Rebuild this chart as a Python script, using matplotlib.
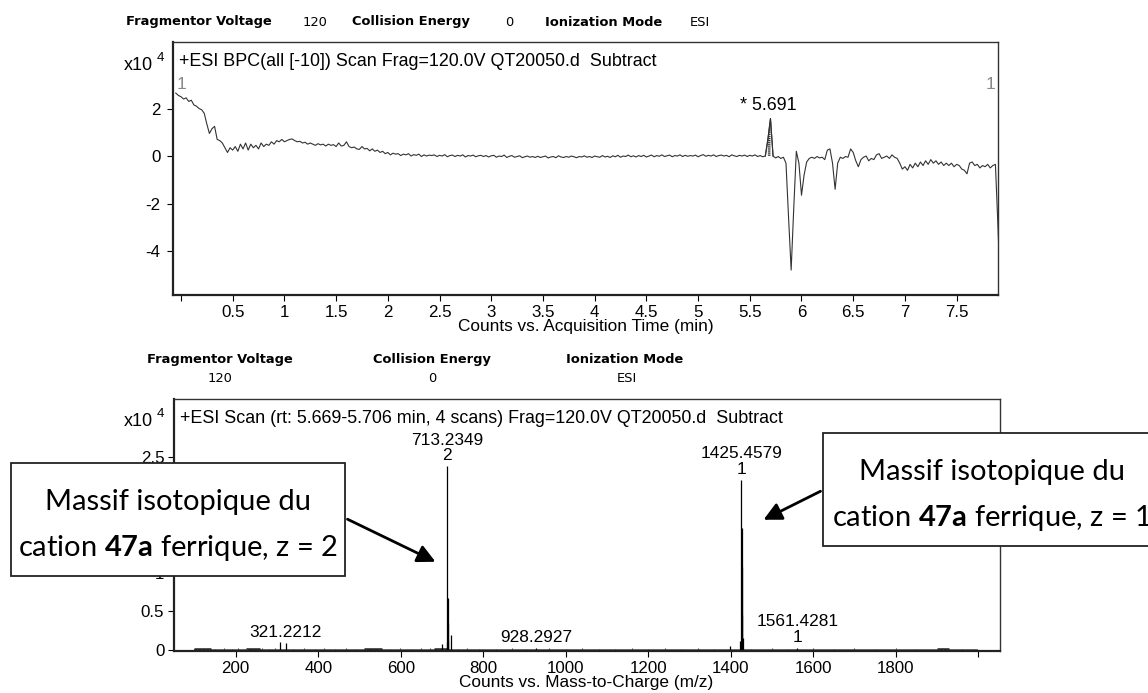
import numpy as np
import matplotlib.pyplot as plt
from matplotlib.patches import Rectangle, FancyArrowPatch

plt.rcParams['font.family'] = ['Liberation Sans', 'DejaVu Sans']
plt.rcParams['axes.unicode_minus'] = False
plt.rcParams['hatch.linewidth'] = 0.9
plt.rcParams['mathtext.fontset'] = 'custom'
plt.rcParams['mathtext.rm'] = 'Lato'
plt.rcParams['mathtext.bf'] = 'Lato:bold'
plt.rcParams['mathtext.it'] = 'Lato:italic'

# --- Chromatogramme BPC (x10^4 counts), pas de 0.025 min à partir de -0.05 ---
bpc_counts = [
    2.65, 2.55, 2.5, 2.4, 2.45, 2.3, 2.35, 2.15, 2.1, 2.0, 1.95, 1.8, 1.35, 0.95, 1.15, 1.25, 0.7, 0.65, 0.55, 0.35,
    0.15, 0.35, 0.25, 0.4, 0.2, 0.5, 0.3, 0.55, 0.25, 0.5, 0.35, 0.45, 0.3, 0.55, 0.4, 0.5, 0.45, 0.6, 0.5, 0.65,
    0.6, 0.7, 0.6, 0.65, 0.7, 0.72, 0.65, 0.6, 0.62, 0.55, 0.58, 0.5, 0.55, 0.5, 0.45, 0.52, 0.47, 0.5, 0.42, 0.5,
    0.45, 0.48, 0.4, 0.55, 0.42, 0.45, 0.6, 0.4, 0.35, 0.38, 0.3, 0.28, 0.4, 0.3, 0.32, 0.22, 0.3, 0.2, 0.25, 0.15,
    0.2, 0.1, 0.15, 0.05, 0.12, 0.08, 0.1, 0.02, 0.08, 0.05, 0.1, 0.0, 0.06, 0.03, 0.08, -0.02, 0.05, 0.0, 0.04, 0.02,
    0.05, -0.02, 0.03, 0.0, 0.06, -0.03, 0.02, 0.04, -0.02, 0.03, 0.0, 0.05, -0.04, 0.02, 0.0, 0.04, -0.03, 0.01, 0.03, -0.02,
    0.02, -0.04, 0.01, 0.03, -0.05, 0.0, -0.02, 0.04, -0.06, -0.01, 0.02, -0.05, -0.02, 0.01, -0.07, -0.03, 0.0, -0.05, -0.02, -0.06,
    -0.01, -0.06, -0.03, 0.0, -0.08, -0.04, -0.02, -0.07, 0.01, -0.04, -0.06, -0.02, -0.05, 0.0, -0.03, -0.07, -0.02, -0.04, 0.01, -0.05,
    -0.02, -0.06, 0.0, -0.03, -0.05, 0.02, -0.04, -0.01, -0.06, 0.01, -0.03, 0.03, -0.05, 0.0, -0.02, 0.04, -0.03, 0.01, -0.04, 0.02,
    -0.02, 0.03, -0.04, 0.0, 0.04, -0.03, 0.02, -0.01, 0.05, -0.02, 0.01, 0.04, -0.03, 0.02, 0.0, 0.05, -0.02, 0.03, -0.01, 0.02,
    0.0, 0.04, -0.03, 0.02, 0.06, -0.01, 0.03, 0.0, 0.05, -0.02, 0.02, 0.04, 0.0, 0.03, -0.03, 0.05, 0.01, -0.02, 0.03, 0.0,
    0.04, -0.02, 0.03, 0.0, 0.05, -0.02, 0.02, -0.03, 0.0, 0.7, 1.58, 0.0, -0.08, -0.02, -0.1, -0.05, -0.3, -2.6, -4.8, -2.2,
    0.2, -0.3, -1.65, -0.8, -0.25, -0.1, -0.05, -0.1, -0.02, -0.08, -0.05, -0.15, 0.25, 0.3, -0.3, -1.4, -0.3, -0.05, -0.1, -0.02,
    -0.05, 0.3, 0.15, -0.2, -0.45, -0.15, -0.05, 0.0, -0.2, -0.1, -0.15, 0.05, 0.1, -0.1, -0.05, 0.0, -0.1, 0.05, -0.05, -0.1,
    -0.3, -0.55, -0.45, -0.6, -0.35, -0.5, -0.3, -0.45, -0.25, -0.4, -0.2, -0.35, -0.15, -0.3, -0.2, -0.35, -0.25, -0.4, -0.3, -0.4,
    -0.3, -0.45, -0.35, -0.4, -0.55, -0.6, -0.75, -0.3, -0.25, -0.4, -0.35, -0.5, -0.4, -0.45, -0.35, -0.5, -0.4, -0.35, -3.0, -6.0,
]
bpc_time = -0.05 + 0.025 * np.arange(len(bpc_counts))
bpc_counts = np.array(bpc_counts)
peak_rt = 5.691
time_ticks = [0, 0.5, 1, 1.5, 2, 2.5, 3, 3.5, 4, 4.5, 5, 5.5, 6, 6.5, 7, 7.5]
time_labels = ['', '0.5', '1', '1.5', '2', '2.5', '3', '3.5', '4', '4.5', '5', '5.5', '6', '6.5', '7', '7.5']
bpc_yticks = [-4, -2, 0, 2]

# --- Spectre de masse (x10^4 counts) ---
peak_mz = [307.2, 321.2212, 699.8, 712.73, 713.2349, 713.73, 714.23, 714.73, 722.2, 928.2927,
           1399.5, 1423.46, 1424.46, 1425.4579, 1426.46, 1427.46, 1428.46, 1429.46, 1561.4281]
peak_h = [0.1, 0.09, 0.08, 0.1, 2.38, 0.67, 0.35, 0.12, 0.19, 0.03,
          0.05, 0.12, 0.08, 2.2, 1.58, 1.07, 0.45, 0.15, 0.03]
noise_mz = [105, 118, 127, 136, 150, 172, 190, 205, 228, 241, 252, 263, 280, 295, 340, 365, 392, 415,
            440, 468, 490, 515, 532, 548, 575, 598, 625, 650, 672, 690, 705, 740, 760, 790, 830, 870,
            905, 960, 1000, 1040, 1080, 1120, 1160, 1200, 1240, 1280, 1320, 1360, 1450, 1500, 1540,
            1600, 1650, 1700, 1750, 1800, 1850, 1905, 1915, 1925, 1960, 1990]
noise_h = [0.02, 0.025, 0.02, 0.03, 0.015, 0.02, 0.015, 0.02, 0.025, 0.02, 0.03, 0.02, 0.015, 0.02,
           0.015, 0.02, 0.015, 0.02, 0.015, 0.02, 0.015, 0.02, 0.025, 0.02, 0.015, 0.02, 0.015, 0.02,
           0.025, 0.03, 0.02, 0.015, 0.02, 0.015, 0.015, 0.02, 0.015, 0.02, 0.015, 0.02, 0.015, 0.015,
           0.02, 0.015, 0.02, 0.015, 0.02, 0.015, 0.015, 0.02, 0.015, 0.02, 0.015, 0.02, 0.015, 0.02,
           0.015, 0.025, 0.03, 0.025, 0.015, 0.015]
block_lo = [100, 225, 510, 680, 1900]
block_hi = [140, 260, 555, 712, 1930]
label_mz = [321.2212, 713.2349, 928.2927, 1425.4579, 1561.4281]
label_h = [0.09, 2.38, 0.03, 2.2, 0.03]
label_txt = ['321.2212', '713.2349\n2', '928.2927', '1425.4579\n1', '1561.4281\n1']
mz_ticks = [200, 400, 600, 800, 1000, 1200, 1400, 1600, 1800, 2000]
mz_labels = ['200', '400', '600', '800', '1000', '1200', '1400', '1600', '1800', '']
ms_yticks = [0, 0.5, 1, 1.5, 2, 2.5]
ms_ylabels = ['0', '0.5', '1', '1.5', '2', '2.5']

W, H = 1148, 693
fig = plt.figure(figsize=(W / 100, H / 100), dpi=100)


def fx(px):
    return px / W


def fy(py):
    return 1 - py / H


hdr = dict(fontsize=9.4, va='center', family=['DejaVu Sans'])

# en-tête du haut
fig.text(fx(126), fy(22), 'Fragmentor Voltage', ha='left', fontweight='bold', **hdr)
fig.text(fx(303), fy(22), '120', ha='left', **hdr)
fig.text(fx(352), fy(22), 'Collision Energy', ha='left', fontweight='bold', **hdr)
fig.text(fx(505), fy(22), '0', ha='left', **hdr)
fig.text(fx(545), fy(22), 'Ionization Mode', ha='left', fontweight='bold', **hdr)
fig.text(fx(690), fy(22), 'ESI', ha='left', **hdr)

# en-tête du bas
fig.text(fx(219.5), fy(360), 'Fragmentor Voltage', ha='center', fontweight='bold', **hdr)
fig.text(fx(220), fy(378), '120', ha='center', **hdr)
fig.text(fx(432), fy(360), 'Collision Energy', ha='center', fontweight='bold', **hdr)
fig.text(fx(432), fy(378), '0', ha='center', **hdr)
fig.text(fx(624.5), fy(360), 'Ionization Mode', ha='center', fontweight='bold', **hdr)
fig.text(fx(627), fy(378), 'ESI', ha='center', **hdr)


def style_axes(ax):
    for s in ['left', 'bottom']:
        ax.spines[s].set_linewidth(1.6)
        ax.spines[s].set_color('#222222')
    for s in ['top', 'right']:
        ax.spines[s].set_linewidth(1.0)
        ax.spines[s].set_color('#333333')
    ax.tick_params(direction='out', length=4, width=0.8, colors='black', labelsize=12.2, pad=3)


# ---------- chromatogramme ----------
ax1 = fig.add_axes([fx(173), fy(295), (998 - 173) / W, (295 - 42.5) / H])
ax1.plot(bpc_time, bpc_counts, color='#333333', lw=0.8)
mask = (bpc_time >= 5.64) & (bpc_time <= 5.73)
ax1.fill_between(bpc_time, 0, bpc_counts, where=mask & (bpc_counts > 0),
                 facecolor='#f4f4f4', edgecolor='#333333', hatch='--------', linewidth=0)
ax1.plot(bpc_time[mask], bpc_counts[mask], color='#333333', lw=0.8)
ax1.set_xlim(-0.077, 7.90)
ax1.set_ylim(-5.85, 4.78)
ax1.set_xticks(time_ticks)
ax1.set_xticklabels(time_labels)
ax1.set_yticks(bpc_yticks)
style_axes(ax1)
ax1.tick_params(axis='y', pad=5)
ax1.annotate('+ESI BPC(all [-10]) Scan Frag=120.0V QT20050.d  Subtract', xy=(0, 1),
             xycoords='axes fraction', xytext=(6, -19), textcoords='offset pixels',
             ha='left', va='center', fontsize=12.9)
ax1.annotate('* %.3f' % peak_rt, xy=(peak_rt, bpc_counts[mask].max()), xytext=(-1, 5),
             textcoords='offset pixels', ha='center', va='bottom', fontsize=12.9)
ax1.annotate('1', xy=(0, 1), xycoords='axes fraction', xytext=(9, -42),
             textcoords='offset pixels', ha='center', va='center', fontsize=12.5, color='#888888')
ax1.annotate('1', xy=(1, 1), xycoords='axes fraction', xytext=(-8, -42),
             textcoords='offset pixels', ha='center', va='center', fontsize=12.5, color='#888888')
fig.text(fx(586), fy(327), 'Counts vs. Acquisition Time (min)', ha='center', va='center', fontsize=12.4)
fig.text(fx(138), fy(65), 'x10', ha='center', va='center', fontsize=13)
fig.text(fx(160), fy(58), '4', ha='center', va='center', fontsize=9.5)

# ---------- spectre de masse ----------
ax2 = fig.add_axes([fx(174), fy(651), (1000 - 174) / W, (651 - 399) / H])
ax2.hlines(0.006, 100, 2000, color='#555555', lw=1.2)
ax2.hlines([0.008] * len(block_lo), block_lo, block_hi, color='#222222', lw=1.8)
ax2.vlines(noise_mz, 0, noise_h, color='#444444', lw=0.8)
ax2.vlines(peak_mz, 0, peak_h, color='black', lw=0.9)
for mz, h, txt in zip(label_mz, label_h, label_txt):
    ax2.annotate(txt, xy=(mz, h), xytext=(0, 3), textcoords='offset pixels',
                 ha='center', va='bottom', fontsize=12.4, linespacing=1.05)
ax2.set_xlim(50.4, 2053)
ax2.set_ylim(-0.013, 3.25)
ax2.set_xticks(mz_ticks)
ax2.set_xticklabels(mz_labels)
ax2.set_yticks(ms_yticks)
ax2.set_yticklabels(ms_ylabels)
style_axes(ax2)
ax2.annotate('+ESI Scan (rt: 5.669-5.706 min, 4 scans) Frag=120.0V QT20050.d  Subtract', xy=(0, 1),
             xycoords='axes fraction', xytext=(6, -19), textcoords='offset pixels',
             ha='left', va='center', fontsize=12.9)
fig.text(fx(586), fy(683), 'Counts vs. Mass-to-Charge (m/z)', ha='center', va='center', fontsize=12.4)
fig.text(fx(138), fy(421), 'x10', ha='center', va='center', fontsize=13)
fig.text(fx(160), fy(414), '4', ha='center', va='center', fontsize=9.5)

# ---------- encadrés et flèches ----------
box_kw = dict(facecolor='white', edgecolor='#222222', lw=1.3, zorder=5, transform=fig.transFigure)
fig.patches.append(Rectangle((fx(11), fy(575.7)), (345 - 11) / W, (575.7 - 462.7) / H, **box_kw))
fig.patches.append(Rectangle((fx(823), fy(545.7)), (1165 - 823) / W, (545.7 - 432.7) / H,
                             clip_on=False, **box_kw))
txt_kw = dict(ha='center', va='center', fontsize=21, family=['Lato', 'DejaVu Sans'], zorder=6)
fig.text(fx(178), fy(502), 'Massif isotopique du', **txt_kw)
fig.text(fx(178), fy(548), r'cation $\mathbf{47a}$ ferrique, z = 2', **txt_kw)
fig.text(fx(992), fy(472), 'Massif isotopique du', **txt_kw)
fig.text(fx(992), fy(518), r'cation $\mathbf{47a}$ ferrique, z = 1', **txt_kw)

arr_kw = dict(arrowstyle='-|>', mutation_scale=27, lw=2.0, color='black',
              transform=fig.transFigure, zorder=7)
fig.patches.append(FancyArrowPatch((fx(345), fy(518)), (fx(438), fy(563)), **arr_kw))
fig.patches.append(FancyArrowPatch((fx(823), fy(490)), (fx(761), fy(521)), **arr_kw))

fig.savefig('out.png', dpi=100)
